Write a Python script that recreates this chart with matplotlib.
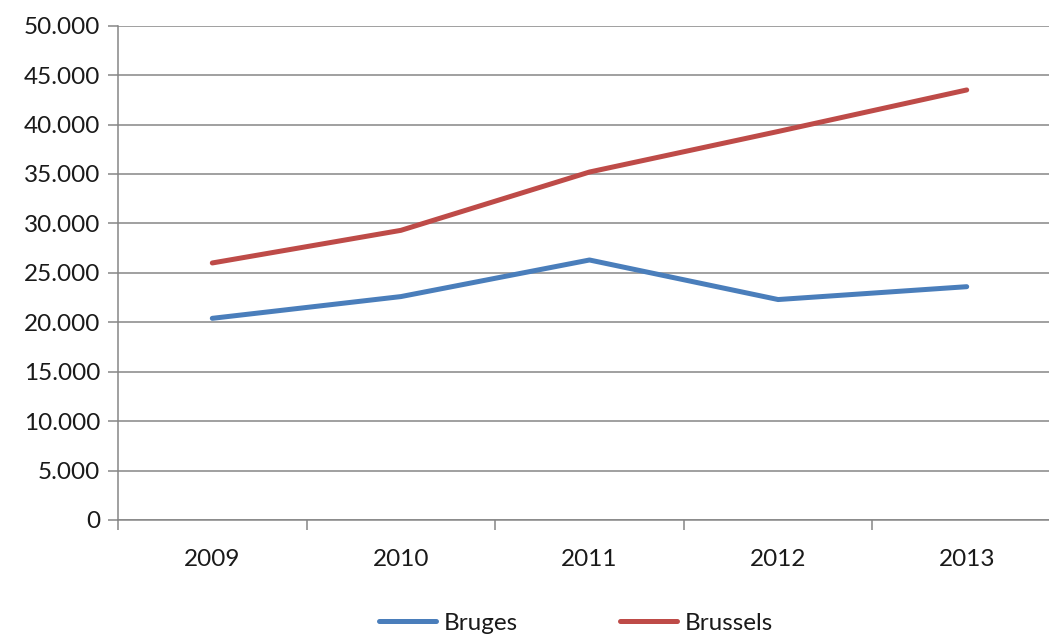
import matplotlib
matplotlib.use("Agg")
import matplotlib.pyplot as plt
from matplotlib.ticker import FuncFormatter, FixedLocator

years = ["2009", "2010", "2011", "2012", "2013"]
bruges = [20400, 22600, 26300, 22300, 23600]
brussels = [26000, 29300, 35200, 39300, 43500]
y_ticks = [0, 5000, 10000, 15000, 20000, 25000, 30000, 35000, 40000, 45000, 50000]

plt.rcParams["font.family"] = ["Lato", "DejaVu Sans"]

W, H = 1049, 639
fig = plt.figure(figsize=(W / 100, H / 100), dpi=100)
ax = fig.add_axes([118 / W, (H - 520) / H, (1061 - 118) / W, (520 - 25.7) / H])

grey = "#868686"
fs = 17.5
x = list(range(len(years)))
ax.plot(x, bruges, color="#4A7EBB", lw=3.6, solid_capstyle="round", label="Bruges")
ax.plot(x, brussels, color="#BE4B48", lw=3.6, solid_capstyle="round", label="Brussels")

ax.set_xlim(-0.5, len(years) - 0.5)
ax.set_ylim(0, 50000)
ax.set_yticks(y_ticks)
ax.yaxis.set_major_formatter(FuncFormatter(lambda v, p: f"{int(v):,}".replace(",", ".")))
ax.set_xticks(x)
ax.set_xticklabels(years)
ax.xaxis.set_minor_locator(FixedLocator([i - 0.5 for i in range(len(years) + 1)]))

ax.grid(axis="y", color=grey, lw=1.1)
ax.set_axisbelow(True)
for s in ["top", "right"]:
    ax.spines[s].set_visible(False)
for s in ["left", "bottom"]:
    ax.spines[s].set_color(grey)
    ax.spines[s].set_linewidth(1.1)

ax.tick_params(axis="y", which="major", length=7, width=1.1, color=grey,
               labelsize=fs, labelcolor="#1a1a1a", pad=6)
ax.tick_params(axis="x", which="major", length=0, labelsize=fs,
               labelcolor="#1a1a1a", pad=21)
ax.tick_params(axis="x", which="minor", length=7, width=1.1, color=grey)

fig.legend(loc="center", bbox_to_anchor=(576 / W, (H - 623) / H), ncol=2,
           frameon=False, fontsize=fs, handlelength=2.35, handletextpad=0.3,
           columnspacing=4.2, labelcolor="#1a1a1a")

fig.savefig("out.png", dpi=100)
